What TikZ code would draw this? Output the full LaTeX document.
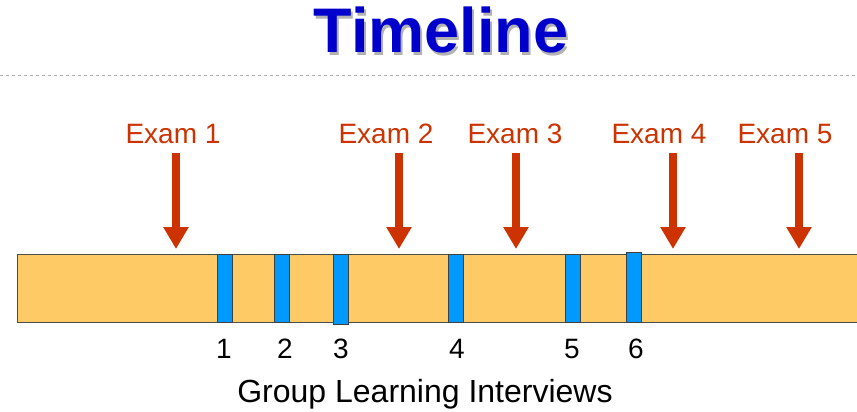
\documentclass[tikz,border=0pt]{standalone}
\usepackage{fontspec}
\setmainfont{Liberation Sans}
\usepackage{xcolor}
\usetikzlibrary{arrows.meta, positioning}

\definecolor{barorange}{RGB}{253,202,102}
\definecolor{markblue}{RGB}{0,153,255}
\definecolor{examred}{RGB}{204,51,0}
\definecolor{titleblue}{RGB}{0,0,204}

\begin{document}
\begin{tikzpicture}[
    x=1pt, y=-1pt,
    title/.style={font=\fontsize{63}{70}\selectfont\bfseries, inner sep=0pt, anchor=base},
    examlabel/.style={font=\fontsize{28}{32}\selectfont, text=examred, inner sep=0pt, anchor=base},
    marker/.style={rectangle, draw=black!75, line width=0.8pt, fill=markblue, minimum width=15pt, inner sep=0pt},
    number/.style={font=\fontsize{28}{32}\selectfont, inner sep=0pt, anchor=base},
    examarrow/.style={line width=8pt, draw=examred, -{Triangle[width=24pt, length=22pt]}}
]
    \useasboundingbox (0,0) rectangle (857,412);

    % Title
    \node (shadow) [title, text=black!30] at (443,56) {Timeline};
    \node (head) [title, text=titleblue] at (441,53) {Timeline};
    \draw [black!30, dash pattern=on 3pt off 3pt, line width=0.6pt] (0,75) -- (857,75);

    % Bar
    \fill [barorange] (17,254) rectangle (860,322);
    \draw [black!70, line width=0.8pt] (860,254) -- (17,254) -- (17,322) -- (860,322);

    % Interviews
    \foreach \i/\x/\top/\bot/\nx in {1/225/254/322/224, 2/282/254/322/285, 3/341/254/324/341,
                                     4/456/254/322/457, 5/573/254/322/572, 6/634/252/322/636} {
        \node (m\i) [marker, minimum height={\bot-\top}] at (\x,{(\top+\bot)/2}) {};
        \node (n\i) [number] at (\nx,358) {\i};
    }
    \node (gli) [number, font=\fontsize{32}{36}\selectfont] at (425,402) {Group Learning Interviews};

    % Exams
    \foreach \i/\lx/\ax in {1/173/176, 2/386/399, 3/515/516, 4/659/673, 5/785/799} {
        \node (e\i) [examlabel] at (\lx,143) {Exam \i};
        \coordinate (a\i) at (\ax,153);
        \coordinate (b\i) at (\ax,249);
        \draw [examarrow] (a\i) -- (b\i);
    }

\end{tikzpicture}
\end{document}
